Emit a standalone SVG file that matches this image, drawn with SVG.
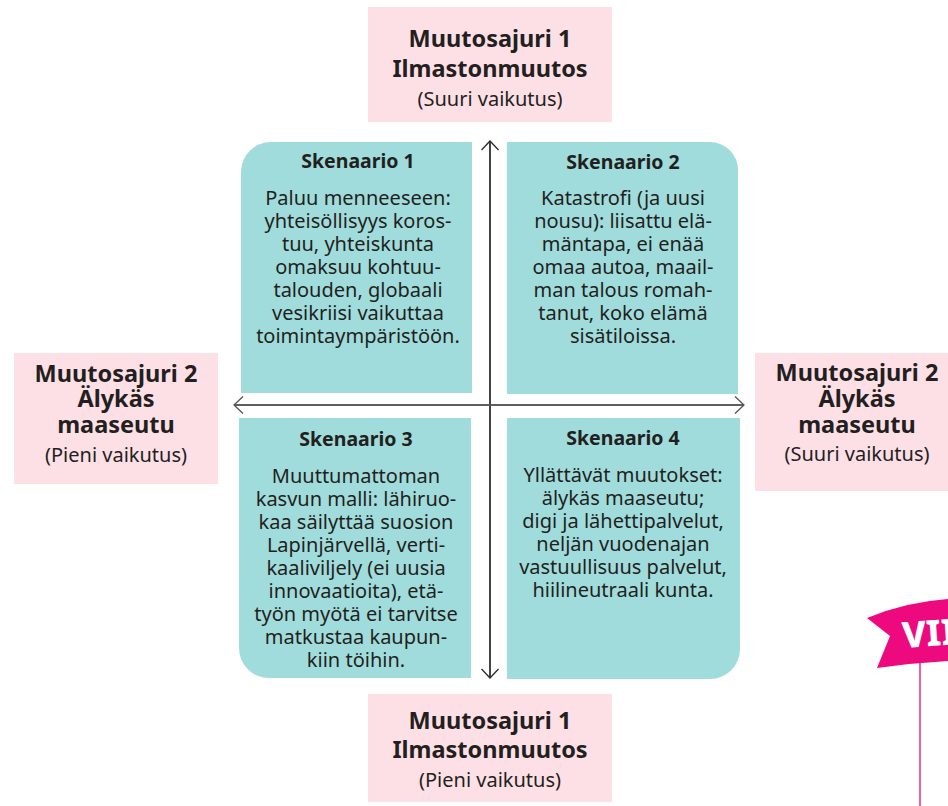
<svg xmlns="http://www.w3.org/2000/svg" width="948" height="806" viewBox="0 0 948 806">
  <defs>
    <style>
      text { font-family: "Noto Sans", "Open Sans", sans-serif; fill: #231f20; text-anchor: middle; }
      .driver { fill: #fde0e6; }
      .scen { fill: #a0dcdc; }
      .dtitle { font-size: 23.5px; font-weight: 700; }
      .dsub { font-size: 20px; font-weight: 400; }
      .shead { font-size: 19.5px; font-weight: 700; }
      .sbody { font-size: 20px; }
      .axis { fill: none; }
    </style>
    <marker id="chev" viewBox="-10 -10 20 20" markerWidth="20" markerHeight="20" refX="0" refY="0" orient="auto" markerUnits="userSpaceOnUse">
      <path d="M-9,-8.5 L0,0 L-9,8.5" fill="none" stroke="context-stroke" stroke-width="1.3"/>
    </marker>
  </defs>

  <rect width="948" height="806" fill="#ffffff"/>

  <!-- driver 1, strong impact -->
  <g id="driver1-top">
    <rect class="driver" x="368" y="7" width="244" height="115"/>
    <text x="490" y="47"><tspan class="dtitle">Muutosajuri 1</tspan><tspan class="dtitle" x="490" y="77">Ilmastonmuutos</tspan><tspan class="dsub" x="490" y="106">(Suuri vaikutus)</tspan></text>
  </g>

  <!-- driver 1, weak impact -->
  <g id="driver1-bottom">
    <rect class="driver" x="368" y="694" width="244" height="108"/>
    <text x="490" y="729"><tspan class="dtitle">Muutosajuri 1</tspan><tspan class="dtitle" x="490" y="758">Ilmastonmuutos</tspan><tspan class="dsub" x="490" y="787">(Pieni vaikutus)</tspan></text>
  </g>

  <!-- driver 2, weak impact -->
  <g id="driver2-left">
    <rect class="driver" x="14" y="353" width="204" height="131"/>
    <text x="116" y="382"><tspan class="dtitle">Muutosajuri 2</tspan><tspan class="dtitle" x="116" y="407">Älykäs</tspan><tspan class="dtitle" x="116" y="433">maaseutu</tspan><tspan class="dsub" x="116" y="462">(Pieni vaikutus)</tspan></text>
  </g>

  <!-- driver 2, strong impact -->
  <g id="driver2-right">
    <rect class="driver" x="755" y="353" width="204" height="138"/>
    <text x="857" y="381"><tspan class="dtitle">Muutosajuri 2</tspan><tspan class="dtitle" x="857" y="407">Älykäs</tspan><tspan class="dtitle" x="857" y="433">maaseutu</tspan><tspan class="dsub" x="857" y="461">(Suuri vaikutus)</tspan></text>
  </g>

  <!-- scenario 1 -->
  <g id="scenario1">
    <path class="scen" d="M241,393 V172 A30,30 0 0 1 271,142 H472 V393 Z"/>
    <text class="shead" x="358" y="168">Skenaario 1</text>
    <text class="sbody" x="358" y="205">Paluu menneeseen:</text>
    <text class="sbody" x="358" y="228">yhteisöllisyys koros-</text>
    <text class="sbody" x="358" y="251">tuu, yhteiskunta</text>
    <text class="sbody" x="358" y="274">omaksuu kohtuu-</text>
    <text class="sbody" x="358" y="297">talouden, globaali</text>
    <text class="sbody" x="358" y="320">vesikriisi vaikuttaa</text>
    <text class="sbody" x="358" y="343">toimintaympäristöön.</text>
  </g>

  <!-- scenario 2 -->
  <g id="scenario2">
    <path class="scen" d="M507,142 H710 A28,28 0 0 1 738,170 V394 H507 Z"/>
    <text class="shead" x="623" y="169">Skenaario 2</text>
    <text class="sbody" x="623" y="205">Katastrofi (ja uusi</text>
    <text class="sbody" x="623" y="228">nousu): liisattu elä-</text>
    <text class="sbody" x="623" y="251">mäntapa, ei enää</text>
    <text class="sbody" x="623" y="274">omaa autoa, maail-</text>
    <text class="sbody" x="623" y="297">man talous romah-</text>
    <text class="sbody" x="623" y="320">tanut, koko elämä</text>
    <text class="sbody" x="623" y="343">sisätiloissa.</text>
  </g>

  <!-- scenario 3 -->
  <g id="scenario3">
    <path class="scen" d="M239,418 H471 V678 H269 A30,30 0 0 1 239,648 Z"/>
    <text class="shead" x="356" y="446">Skenaario 3</text>
    <text class="sbody" x="356" y="483">Muuttumattoman</text>
    <text class="sbody" x="356" y="506">kasvun malli: lähiruo-</text>
    <text class="sbody" x="356" y="529">kaa säilyttää suosion</text>
    <text class="sbody" x="356" y="552">Lapinjärvellä, verti-</text>
    <text class="sbody" x="356" y="575">kaaliviljely (ei uusia</text>
    <text class="sbody" x="356" y="598">innovaatioita), etä-</text>
    <text class="sbody" x="356" y="621">työn myötä ei tarvitse</text>
    <text class="sbody" x="356" y="644">matkustaa kaupun-</text>
    <text class="sbody" x="356" y="667">kiin töihin.</text>
  </g>

  <!-- scenario 4 -->
  <g id="scenario4">
    <path class="scen" d="M507,418 H740 V649 A30,30 0 0 1 710,679 H507 Z"/>
    <text class="shead" x="623" y="445">Skenaario 4</text>
    <text class="sbody" x="623" y="482">Yllättävät muutokset:</text>
    <text class="sbody" x="623" y="505">älykäs maaseutu;</text>
    <text class="sbody" x="623" y="528">digi ja lähettipalvelut,</text>
    <text class="sbody" x="623" y="551">neljän vuodenajan</text>
    <text class="sbody" x="623" y="574">vastuullisuus palvelut,</text>
    <text class="sbody" x="623" y="597">hiilineutraali kunta.</text>
  </g>

  <!-- axes, each with an open chevron at both ends -->
  <g id="connectors">
    <line class="axis" x1="490" y1="678" x2="490" y2="141" stroke="#2a2a2a" stroke-width="1.3" marker-end="url(#chev)"/>
    <line class="axis" x1="490" y1="141" x2="490" y2="678" stroke="#2a2a2a" stroke-width="1.3" marker-end="url(#chev)"/>
    <line class="axis" x1="234" y1="405" x2="744" y2="405" stroke="#555555" stroke-width="1.6" marker-end="url(#chev)"/>
    <line class="axis" x1="744" y1="405" x2="234" y2="405" stroke="#555555" stroke-width="1.6" marker-end="url(#chev)"/>
  </g>

  <!-- pennant at the edge -->
  <g id="pennant">
    <line x1="920" y1="662" x2="920" y2="806" stroke="#f0609e" stroke-width="2"/>
    <path d="M867,618 Q905,602 948,599 V661 Q912,663 877,668 L890,636 Z" fill="#ec0a7e"/>
    <text x="903" y="648" transform="rotate(-4 903 648)" style="font-size:36px;font-weight:800;fill:#ffffff;text-anchor:start">VII</text>
  </g>
</svg>
